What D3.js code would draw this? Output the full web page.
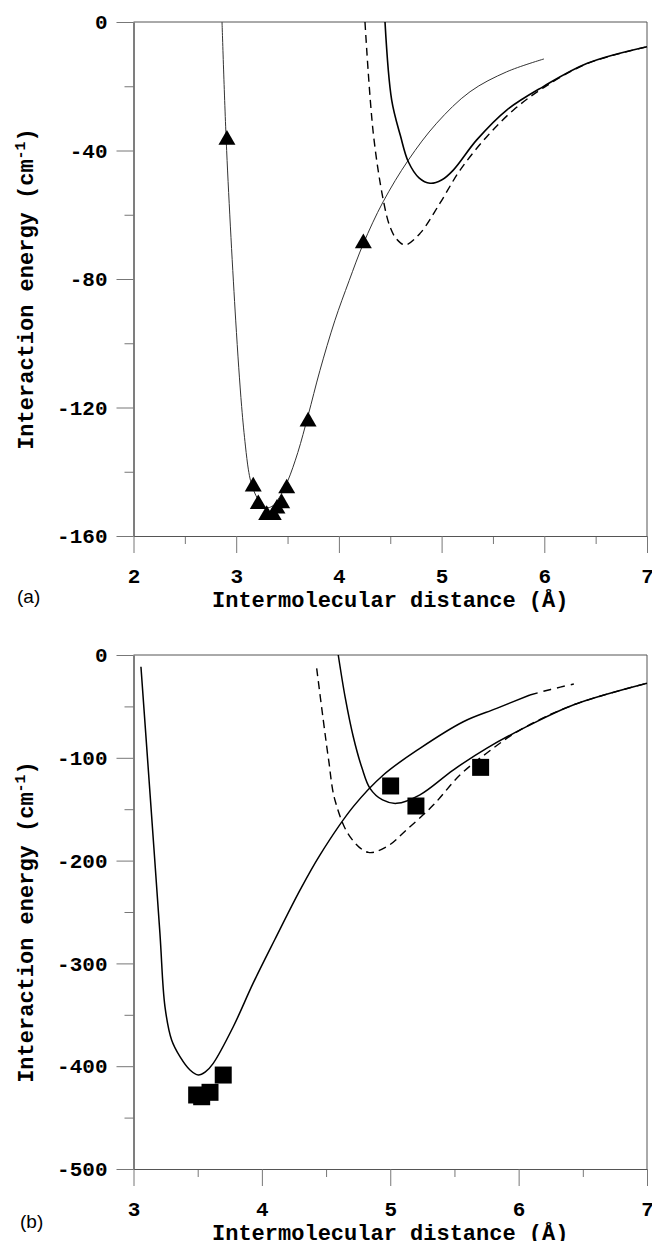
<!DOCTYPE html>
<html>
<head>
<meta charset="utf-8">
<script src="https://cdn.jsdelivr.net/npm/d3@7"></script>
<style>
  body { margin: 0; background: #fff; }
  svg { display: block; }
  .tick text { font-family: "Liberation Mono", "Courier New", monospace; font-weight: bold; font-size: 21px; fill: #000; }
  .title { font-family: "Liberation Mono", "Courier New", monospace; font-weight: bold; font-size: 22px; fill: #000; }
  .panel { font-family: "Liberation Sans", Arial, sans-serif; font-size: 19px; fill: #000; }
</style>
</head>
<body>
<svg width="652" height="1241"></svg>
<script>
// ---- panel (a) ----
var aFitX = [2.862, 2.907, 2.995, 3.053, 3.09, 3.118, 3.14, 3.17, 3.22, 3.27, 3.31, 3.36, 3.42, 3.50, 3.60, 3.70, 3.815, 3.96, 4.10, 4.238, 4.43, 4.676, 4.952, 5.277, 5.634, 5.997]
var aFitY = [0, -40, -92.8, -119.7, -132, -139.2, -142.8, -145.8, -149, -150.8, -151.2, -150.5, -148, -143, -134, -122.5, -108.5, -93, -80.5, -69, -56, -43, -31.5, -21.7, -15.5, -11.5]

var aSolidX = [4.449, 4.514, 4.60, 4.676, 4.78, 4.887, 5.0, 5.114, 5.342, 5.634, 5.99, 6.413, 7.0]
var aSolidY = [0, -24.3, -35.5, -43.5, -48.5, -50.2, -49.2, -46.1, -36.7, -27.4, -20.1, -12.9, -7.7]

var aDashX = [4.254, 4.335, 4.432, 4.497, 4.56, 4.644, 4.79, 4.984, 5.18, 5.44, 5.70, 5.99, 6.413, 7.0]
var aDashY = [0, -34.7, -55.4, -63.7, -67.5, -69.4, -65.8, -56.4, -46.1, -35.7, -27.4, -20.5, -13.0, -7.7]

var aTriX = [2.91, 3.166, 3.215, 3.297, 3.361, 3.397, 3.443, 3.492, 3.70, 4.238]
var aTriY = [-36.7, -144.6, -150.1, -153.5, -153.5, -151.5, -149.8, -145.2, -124.4, -68.9]

var aXTicks = [2, 3, 4, 5, 6, 7]
var aYTicks = [0, -40, -80, -120, -160]

// ---- panel (b) ----
var bS1X = [3.058, 3.13, 3.206, 3.245, 3.297, 3.362, 3.44, 3.505, 3.56, 3.621, 3.777, 3.933, 4.10, 4.30, 4.452, 4.712, 4.946, 5.231, 5.569, 5.829, 6.088]
var bS1Y = [-11.4, -137, -271, -342, -374.5, -390.7, -403.7, -408.6, -405.5, -397.2, -361.6, -319, -277, -228, -194.6, -147.5, -116.7, -90.8, -64.9, -51.9, -38.9]

var bTailX = [6.088, 6.25, 6.43]
var bTailY = [-38.9, -33.5, -28.2]

var bS2X = [4.595, 4.65, 4.712, 4.78, 4.842, 4.94, 5.05, 5.231, 5.49, 5.75, 6.062, 6.425, 7.0]
var bS2Y = [0, -42, -79.5, -110, -129.7, -141, -144.3, -136, -111.9, -90.8, -69.7, -48.6, -27.5]

var bDashX = [4.427, 4.478, 4.52, 4.569, 4.686, 4.829, 4.972, 5.128, 5.335, 5.543, 5.75, 6.01, 6.425, 7.0]
var bDashY = [-13, -63, -102, -141, -176.7, -192, -186.5, -170, -146, -116.7, -95.6, -73, -48.6, -27.5]

var bSqX = [3.492, 3.531, 3.596, 3.699, 5.003, 5.2, 5.704]
var bSqY = [-428, -429.7, -425.4, -408.6, -127.4, -146.9, -109.3]

var bXTicks = [3, 4, 5, 6, 7]
var bYTicks = [0, -100, -200, -300, -400, -500]

var zip = function(xs, ys) { return xs.map(function(x, i) { return [x, ys[i]] }) }

var svg = d3.select("svg")
var axisColor = "#555"

var drawPanel = function(p)
{
    var g = svg.append("g").attr("transform", "translate(" + p.left + "," + p.top + ")")
    var w = p.width, h = p.height

    var xScale = d3.scaleLinear().domain(p.xDomain).range([0, w])
    var yScale = d3.scaleLinear().domain(p.yDomain).range([h, 0])

    // minor ticks
    g.append("g").attr("transform", "translate(0," + h + ")")
        .call(d3.axisBottom(xScale).tickValues(p.xMinor).tickSize(8).tickSizeOuter(0).tickFormat(""))
    g.append("g")
        .call(d3.axisLeft(yScale).tickValues(p.yMinor).tickSize(9).tickSizeOuter(0).tickFormat(""))

    // major ticks
    var xAxis = g.append("g").attr("transform", "translate(0," + h + ")")
        .call(d3.axisBottom(xScale).tickValues(p.xTicks).tickSize(17).tickSizeOuter(0).tickPadding(10)
        .tickFormat(function(d) { return String(d) }))
    var yAxis = g.append("g")
        .call(d3.axisLeft(yScale).tickValues(p.yTicks).tickSize(17).tickSizeOuter(0).tickPadding(9)
        .tickFormat(function(d) { return String(d) }))

    g.selectAll(".domain").attr("stroke", axisColor)
    g.selectAll(".tick line").attr("stroke", "#777")
    xAxis.selectAll(".tick text").attr("dy", "0.95em")

    // frame top + right
    g.append("line").attr("x1", 0).attr("x2", w).attr("y1", 0).attr("y2", 0).attr("stroke", axisColor)
    g.append("line").attr("x1", w).attr("x2", w).attr("y1", 0).attr("y2", h).attr("stroke", axisColor)

    g.append("clipPath").attr("id", "clip" + p.name)
        .append("rect").attr("width", w).attr("height", h)

    var line = d3.line()
        .x(function(d) { return xScale(d[0]) })
        .y(function(d) { return yScale(d[1]) })
        .curve(d3.curveCatmullRom.alpha(0.5))

    var plot = g.append("g").attr("clip-path", "url(#clip" + p.name + ")")

    p.lines.forEach(function(l) {
        plot.append("path")
            .datum(l.data)
            .attr("d", line)
            .attr("fill", "none")
            .attr("stroke", l.color || "#000")
            .attr("stroke-width", l.width)
            .attr("stroke-dasharray", l.dash || null)
    })

    g.selectAll(".mark")
        .data(p.marks)
        .enter()
        .append("path")
        .attr("class", "mark")
        .attr("d", d3.symbol().type(p.symbol).size(p.symbolSize))
        .attr("transform", function(d) { return "translate(" + xScale(d[0]) + "," + yScale(d[1]) + ")" })
        .attr("fill", "#000")

    // titles
    g.append("text").attr("class", "title")
        .attr("x", w / 2).attr("y", h + 71)
        .attr("text-anchor", "middle")
        .text("Intermolecular distance (\u00c5)")

    var yt = g.append("text").attr("class", "title")
        .attr("transform", "translate(" + (33 - p.left) + "," + (h / 2 + 10) + ") rotate(-90)")
        .attr("text-anchor", "middle")
    yt.append("tspan").text("Interaction energy (cm")
    yt.append("tspan").attr("dy", -8).style("font-size", "15px").text("-1")
    yt.append("tspan").attr("dy", 8).text(")")

    svg.append("text").attr("class", "panel")
        .attr("x", p.labelX).attr("y", p.labelY)
        .text(p.name)
}

drawPanel({
    name: "(a)", left: 133.5, top: 22, width: 513.5, height: 514,
    xDomain: [2, 7], yDomain: [-160, 0],
    xTicks: aXTicks, yTicks: aYTicks,
    xMinor: [2.5, 3.5, 4.5, 5.5, 6.5], yMinor: [-20, -60, -100, -140],
    lines: [
        { data: zip(aFitX, aFitY), width: 1, color: "#333" },
        { data: zip(aSolidX, aSolidY), width: 1.6 },
        { data: zip(aDashX, aDashY), width: 1.4, dash: "8,5" }
    ],
    marks: zip(aTriX, aTriY), symbol: d3.symbolTriangle, symbolSize: 125,
    labelX: 17, labelY: 603
})

drawPanel({
    name: "(b)", left: 133.5, top: 655, width: 513.5, height: 514,
    xDomain: [3, 7], yDomain: [-500, 0],
    xTicks: bXTicks, yTicks: bYTicks,
    xMinor: [3.5, 4.5, 5.5, 6.5], yMinor: [-50, -150, -250, -350, -450],
    lines: [
        { data: zip(bS1X, bS1Y), width: 1.5 },
        { data: zip(bTailX, bTailY), width: 1.5, dash: "8,6" },
        { data: zip(bS2X, bS2Y), width: 1.5 },
        { data: zip(bDashX, bDashY), width: 1.4, dash: "8,5" }
    ],
    marks: zip(bSqX, bSqY), symbol: d3.symbolSquare, symbolSize: 289,
    labelX: 20, labelY: 1228
})
</script>
</body>
</html>
